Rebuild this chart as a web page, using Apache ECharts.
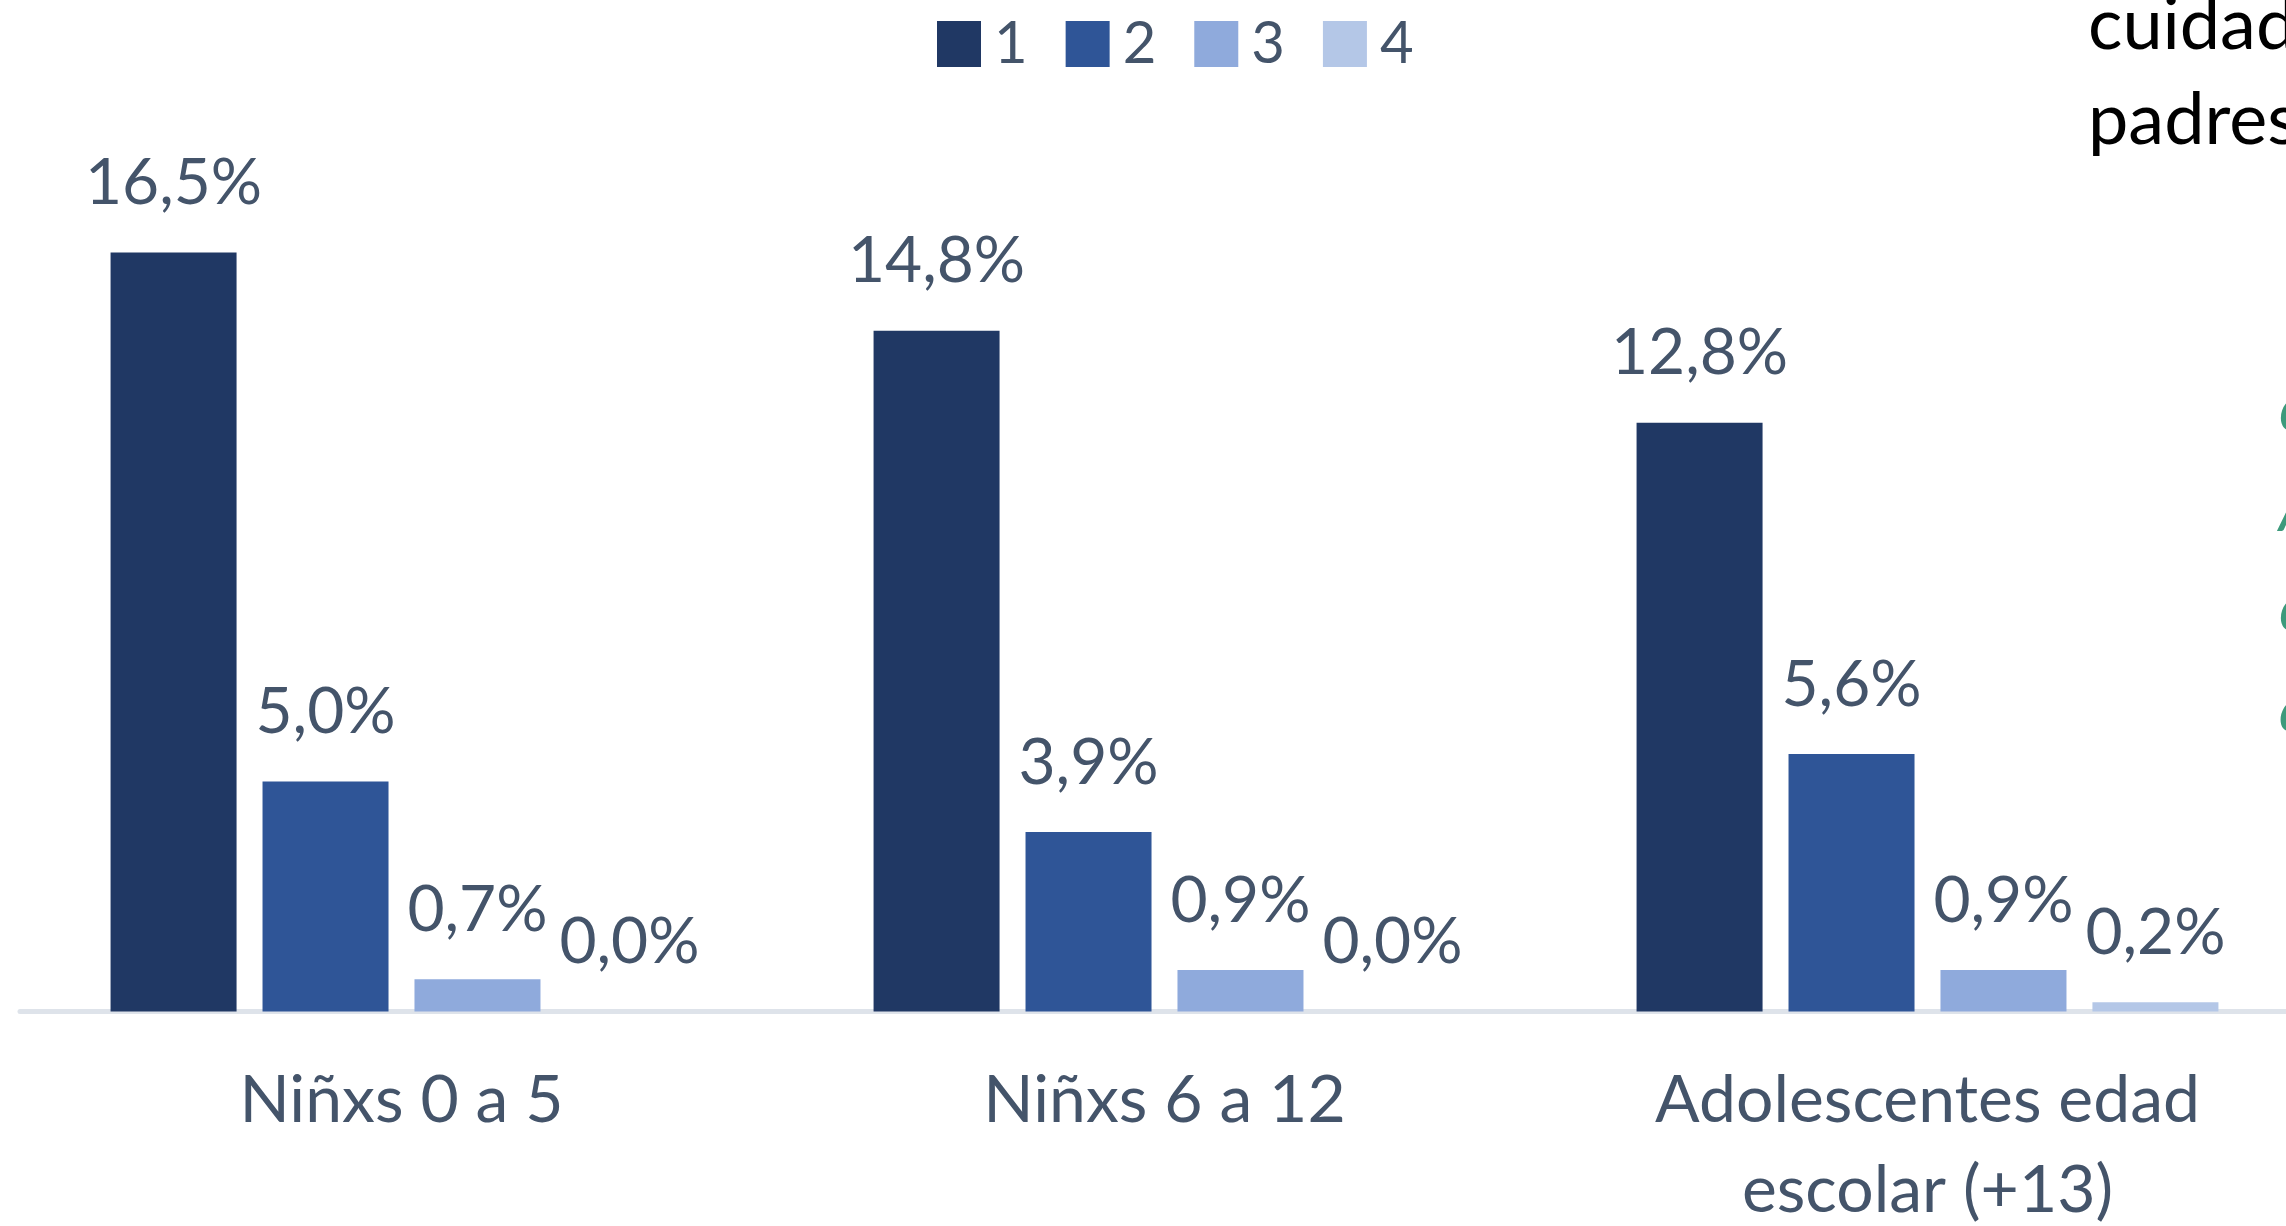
<!DOCTYPE html>
<html>
<head>
<meta charset="utf-8">
<script src="https://cdn.jsdelivr.net/npm/echarts@6/dist/echarts.min.js"></script>
<style>
  html, body { margin: 0; padding: 0; background: #ffffff; }
  #chart { width: 2286px; height: 1226px; }
</style>
</head>
<body>
<div id="chart"></div>
<script>
// Age groups along the x axis
const categories = ['Niñxs 0 a 5', 'Niñxs 6 a 12', 'Adolescentes edad\nescolar (+13)'];

// Series names shown in the legend
const seriesNames = ['1', '2', '3', '4'];

// Share of each group (%) per series
const values1 = [16.5, 14.8, 12.8];
const values2 = [5.0, 3.9, 5.6];
const values3 = [0.7, 0.9, 0.9];
const values4 = [0.0, 0.0, 0.2];

// Surrounding document text, partly outside the chart area
const sideLines = ['cuidad', 'padres'];
const sideItalic = ['c', 'A', 'c', 'á'];

const colors = ['#203864', '#2f5597', '#8faadc', '#b4c7e7'];
const textColor = '#44546a';
const FONT = 'Lato, "Noto Sans", sans-serif';

const fmt = v => v.toFixed(1).replace('.', ',') + '%';

const allValues = [values1, values2, values3, values4];

const chart = echarts.init(document.getElementById('chart'), null, { renderer: 'canvas' });

const series = allValues.map((vals, i) => ({
  name: seriesNames[i],
  type: 'bar',
  data: vals,
  barWidth: 126,
  barGap: '20.6%',
  itemStyle: { color: colors[i] },
  label: {
    show: true,
    position: 'top',
    distance: 37,
    color: textColor,
    fontFamily: FONT,
    fontSize: 64,
    formatter: p => fmt(p.value)
  }
}));

const graphics = [];
sideLines.forEach((t, i) => {
  graphics.push({
    type: 'text',
    left: 2088,
    top: -10 + i * 95,
    style: { text: t, fill: '#000000', font: '72px ' + FONT }
  });
});
sideItalic.forEach((t, i) => {
  graphics.push({
    type: 'text',
    left: 2279,
    top: 378 + i * 100,
    style: { text: t, fill: '#3d9a7c', font: 'italic 64px ' + FONT }
  });
});

chart.setOption({
  backgroundColor: '#ffffff',
  animation: false,
  color: colors,
  legend: {
    data: seriesNames,
    left: 932,
    top: 10,
    icon: 'rect',
    itemWidth: 44,
    itemHeight: 46,
    itemGap: 38,
    textStyle: {
      color: textColor,
      fontFamily: FONT,
      fontSize: 58,
      padding: [0, 0, 0, 8]
    }
  },
  grid: {
    left: 20,
    width: 2289,
    top: 91.5,
    height: 920,
    containLabel: false,
    outerBoundsMode: 'none'
  },
  xAxis: {
    type: 'category',
    data: categories,
    axisLine: { show: true, lineStyle: { color: '#dee3ea', width: 5 } },
    axisTick: { show: false },
    axisLabel: {
      color: textColor,
      fontFamily: FONT,
      fontSize: 66,
      lineHeight: 90,
      margin: 44,
      interval: 0
    }
  },
  yAxis: {
    type: 'value',
    min: 0,
    max: 20,
    show: false,
    splitLine: { show: false }
  },
  series: series,
  graphic: graphics
});
</script>
</body>
</html>
